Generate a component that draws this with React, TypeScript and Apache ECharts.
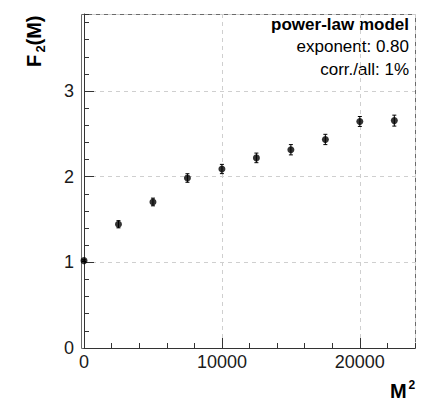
import React, { useEffect, useRef } from "react";
import * as echarts from "echarts";

// Data
const M2 = [0, 2500, 5000, 7500, 10000, 12500, 15000, 17500, 20000, 22500];
const F2 = [1.02, 1.445, 1.705, 1.985, 2.09, 2.22, 2.315, 2.435, 2.645, 2.655];
const F2_ERR = [0.01, 0.042, 0.045, 0.05, 0.054, 0.056, 0.06, 0.06, 0.058, 0.064];

const LEGEND_TITLE = "power-law model";
const LEGEND_LINES = ["exponent: 0.80", "corr./all: 1%"];

const X_MIN = 0;
const X_MAX = 24000;
const Y_MIN = 0;
const Y_MAX = 3.9;

const FONT = "'Liberation Sans', Arial, Helvetica, sans-serif";

export default function App() {
  const ref = useRef<HTMLDivElement>(null);

  useEffect(() => {
    if (!ref.current) return;
    const chart = echarts.init(ref.current, null, { renderer: "svg" });

    const errData = M2.map((x, i) => [x, F2[i], F2_ERR[i]]);
    const pts = M2.map((x, i) => [x, F2[i]]);

    const option: any = {
      animation: false,
      backgroundColor: "#ffffff",
      grid: { left: 84, top: 14, width: 331, height: 334 },
      xAxis: [
        {
          type: "value",
          position: "bottom",
          offset: 0,
          min: X_MIN,
          max: X_MAX,
          interval: 10000,
          axisLine: { show: true, lineStyle: { color: "#333", width: 1 } },
          axisTick: { show: true, inside: true, length: 10, lineStyle: { color: "#333", width: 1 } },
          axisLabel: {
            show: true,
            fontSize: 18,
            color: "#1a1a1a",
            fontFamily: FONT,
            margin: 5,
            showMaxLabel: false,
            formatter: (v: number) => (v === X_MAX ? "" : String(v)),
          },
          splitLine: { show: true, lineStyle: { color: "#cfcfcf", type: [4, 4], width: 1 } },
        },
        {
          type: "value",
          position: "bottom",
          offset: 0,
          min: X_MIN,
          max: X_MAX,
          interval: 2000,
          axisLine: { show: false },
          axisTick: { show: true, inside: true, length: 5, lineStyle: { color: "#333", width: 1 } },
          axisLabel: { show: false },
          splitLine: { show: false },
        },
      ],
      yAxis: [
        {
          type: "value",
          position: "left",
          offset: 3,
          min: Y_MIN,
          max: Y_MAX,
          interval: 1,
          axisLine: { show: true, lineStyle: { color: "#333", width: 1 } },
          axisTick: { show: true, inside: true, length: 10, lineStyle: { color: "#333", width: 1 } },
          axisLabel: {
            show: true,
            fontSize: 18,
            color: "#1a1a1a",
            fontFamily: FONT,
            margin: 7,
            showMaxLabel: false,
            formatter: (v: number) => (Math.abs(v - Y_MAX) < 1e-6 ? "" : String(v)),
          },
          splitLine: { show: true, lineStyle: { color: "#cfcfcf", type: [4, 4], width: 1 } },
        },
        {
          type: "value",
          position: "left",
          offset: 3,
          min: Y_MIN,
          max: Y_MAX,
          interval: 0.2,
          axisLine: { show: false },
          axisTick: { show: true, inside: true, length: 5, lineStyle: { color: "#333", width: 1 } },
          axisLabel: { show: false },
          splitLine: { show: false },
        },
      ],
      series: [
        {
          type: "custom",
          xAxisIndex: 0,
          yAxisIndex: 0,
          clip: false,
          data: errData,
          renderItem: (params: any, api: any) => {
            const x = api.value(0);
            const y = api.value(1);
            const e = api.value(2);
            const lo = api.coord([x, y - e]);
            const hi = api.coord([x, y + e]);
            const cap = 2;
            const style = { stroke: "#000", lineWidth: 1 };
            return {
              type: "group",
              children: [
                { type: "line", shape: { x1: lo[0], y1: lo[1], x2: hi[0], y2: hi[1] }, style },
                { type: "line", shape: { x1: lo[0] - cap, y1: lo[1], x2: lo[0] + cap, y2: lo[1] }, style },
                { type: "line", shape: { x1: hi[0] - cap, y1: hi[1], x2: hi[0] + cap, y2: hi[1] }, style },
              ],
            };
          },
          z: 3,
        },
        {
          type: "scatter",
          xAxisIndex: 0,
          yAxisIndex: 0,
          clip: false,
          data: pts,
          symbol: "circle",
          symbolSize: 7,
          itemStyle: { color: "#000" },
          z: 4,
        },
      ],
      graphic: [
        {
          type: "rect",
          z: -1,
          silent: true,
          shape: { x: 81.5, y: 14.5, width: 334, height: 334 },
          style: { fill: "none", stroke: "#6a6a6a", lineWidth: 1 },
        },
        {
          type: "text",
          x: 409,
          y: 24,
          style: {
            text: LEGEND_TITLE,
            fontFamily: FONT,
            fontSize: 17,
            fontWeight: "bold",
            fill: "#000",
            align: "right",
            verticalAlign: "middle",
          },
        },
        ...LEGEND_LINES.map((t, i) => ({
          type: "text",
          x: 409,
          y: 46 + i * 23,
          style: {
            text: t,
            fontFamily: FONT,
            fontSize: 17,
            fill: "#000",
            align: "right",
            verticalAlign: "middle",
          },
        })),
        {
          type: "group",
          x: 34,
          y: 68,
          rotation: Math.PI / 2,
          children: [
            {
              type: "text",
              x: 1,
              y: 0,
              style: { text: "F", fontFamily: FONT, fontSize: 20, fontWeight: "bold", fill: "#000", align: "left", verticalAlign: "middle" },
            },
            {
              type: "text",
              x: 15.5,
              y: 6,
              style: { text: "2", fontFamily: FONT, fontSize: 13, fontWeight: "bold", fill: "#000", align: "left", verticalAlign: "middle" },
            },
            {
              type: "text",
              x: 22.5,
              y: 0,
              style: { text: "(M)", fontFamily: FONT, fontSize: 20, fontWeight: "bold", fill: "#000", align: "left", verticalAlign: "middle" },
            },
          ],
        },
        {
          type: "text",
          x: 390,
          y: 391,
          style: { text: "M", fontFamily: FONT, fontSize: 20, fontWeight: "bold", fill: "#000", align: "left", verticalAlign: "middle" },
        },
        {
          type: "text",
          x: 408.5,
          y: 385,
          style: { text: "2", fontFamily: FONT, fontSize: 12, fontWeight: "bold", fill: "#000", align: "left", verticalAlign: "middle" },
        },
      ],
    };

    chart.setOption(option);
    return () => chart.dispose();
  }, []);

  return (
    <div
      ref={ref}
      style={{ position: "fixed", left: 0, top: 0, width: 436, height: 404, background: "#fff" }}
    />
  );
}
